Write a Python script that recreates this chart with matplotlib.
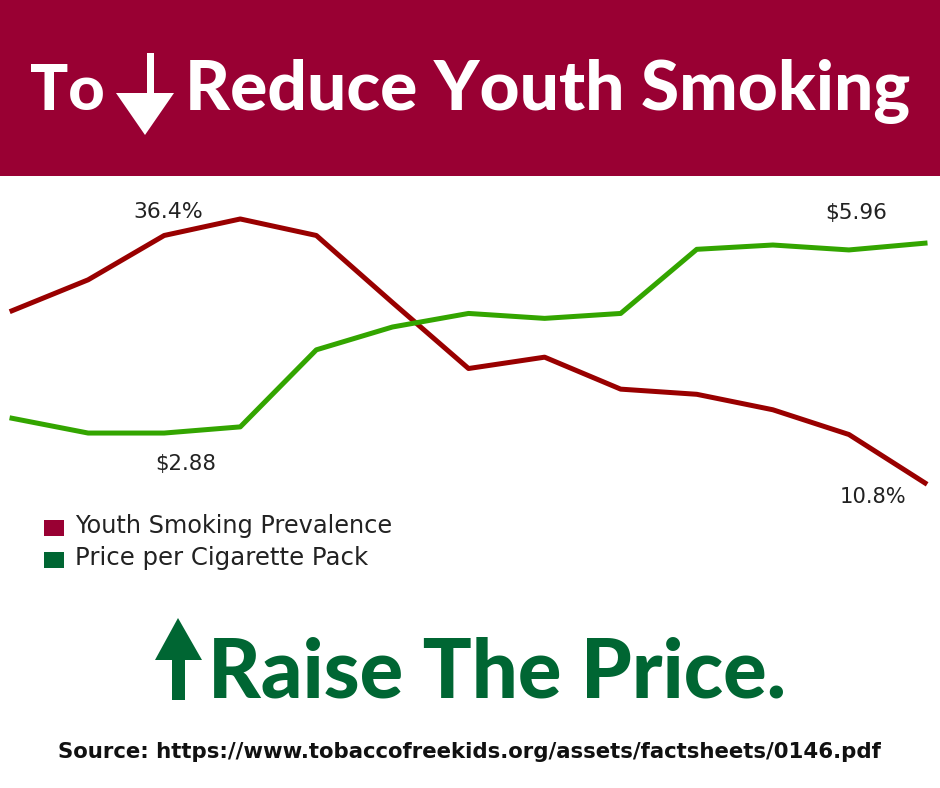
import matplotlib.pyplot as plt
from matplotlib.patches import Polygon, Rectangle

# data (13 survey years, 1991-2015)
years = [1991, 1993, 1995, 1997, 1999, 2001, 2003, 2005, 2007, 2009, 2011, 2013, 2015]
youth_smoking = [27.5, 30.5, 34.8, 36.4, 34.8, 28.3, 21.9, 23.0, 19.9, 19.4, 17.9, 15.5, 10.8]
pack_price = [3.12, 2.88, 2.88, 2.98, 4.23, 4.60, 4.82, 4.74, 4.82, 5.86, 5.93, 5.85, 5.96]
series_names = ["Youth Smoking Prevalence", "Price per Cigarette Pack"]

W, H = 940, 788
MAROON = "#990033"
DARKGREEN = "#006633"
RED_LINE = "#990000"
GREEN_LINE = "#33a500"
TEXT = "#222222"
HEAD = "Lato"
BODY = "DejaVu Sans"

fig = plt.figure(figsize=(W / 100, H / 100), dpi=100)
fig.patch.set_facecolor("white")
renderer = fig.canvas.get_renderer()


def fx(px):
    return px / W


def fy(py):
    return 1 - py / H


def fit(t, width_px):
    # scale font so the text is as wide as in the reference
    w = t.get_window_extent(renderer).width
    t.set_fontsize(t.get_fontsize() * width_px / w)
    return t


# header band
fig.patches.append(Rectangle((0, fy(176)), 1, 176 / H, transform=fig.transFigure,
                             facecolor=MAROON, edgecolor="none", zorder=0))

fit(fig.text(fx(30), fy(110), "To", color="white", fontsize=50, fontweight="black",
             family=HEAD, ha="left", va="baseline"), 75)
fit(fig.text(fx(910), fy(110), "Reduce Youth Smoking", color="white", fontsize=50,
             fontweight="black", family=HEAD, ha="right", va="baseline"), 725)
down = [(147, 53), (154, 53), (154, 93), (174, 93), (145, 135), (116, 93), (147, 93)]
fig.patches.append(Polygon([(fx(a), fy(b)) for a, b in down], closed=True,
                           transform=fig.transFigure, facecolor="white", edgecolor="none"))

# chart area
ax = fig.add_axes([0, fy(500), 1, 300 / H])
idx = list(range(len(years)))
ax.plot(idx, youth_smoking, color=RED_LINE, lw=3.6)
ax.set_xlim(-0.158, 12.197)
ax.set_ylim(9.15, 38.24)
ax.axis("off")

ax2 = ax.twinx()
ax2.plot(idx, pack_price, color=GREEN_LINE, lw=3.6)
ax2.set_ylim(1.794, 6.66)
ax2.set_xlim(-0.158, 12.197)
ax2.axis("off")

lab = dict(fontsize=16, color=TEXT, family=BODY, ha="center", va="baseline",
           textcoords="offset pixels")
i_max = youth_smoking.index(max(youth_smoking))
fit(ax.annotate(f"{youth_smoking[i_max]}%", (i_max, youth_smoking[i_max]), xytext=(-72, 1), **lab), 70)
fit(ax.annotate(f"{youth_smoking[-1]}%", (12, youth_smoking[-1]), xytext=(-52, -20), **lab), 67)
fit(ax2.annotate(f"${pack_price[2]:.2f}", (2, pack_price[2]), xytext=(22, -37), **lab), 61)
fit(ax2.annotate(f"${pack_price[-1]:.2f}", (12, pack_price[-1]), xytext=(-69, 24), **lab), 62)

# legend
for k, (name, col, wpx) in enumerate(zip(series_names, [MAROON, DARKGREEN], [318, 292])):
    base = 533 + k * 32
    fig.patches.append(Rectangle((fx(44), fy(base + 3)), 20 / W, 16 / H, transform=fig.transFigure,
                                 facecolor=col, edgecolor="none"))
    fit(fig.text(fx(75), fy(base), name, color=TEXT, fontsize=15, family=BODY,
                 ha="left", va="baseline"), wpx)

# bottom call to action
up = [(178, 618), (202, 660), (185, 660), (185, 700), (172, 700), (172, 660), (155, 660)]
fig.patches.append(Polygon([(fx(a), fy(b)) for a, b in up], closed=True,
                           transform=fig.transFigure, facecolor=DARKGREEN, edgecolor="none"))
fit(fig.text(fx(208), fy(698), "Raise The Price.", color=DARKGREEN, fontsize=60,
             fontweight="black", family=HEAD, ha="left", va="baseline"), 578)

fit(fig.text(fx(58), fy(758), "Source: https://www.tobaccofreekids.org/assets/factsheets/0146.pdf",
             color="#111111", fontsize=15, fontweight="bold", family=BODY,
             ha="left", va="baseline"), 827)

fig.savefig("out.png", dpi=100)
